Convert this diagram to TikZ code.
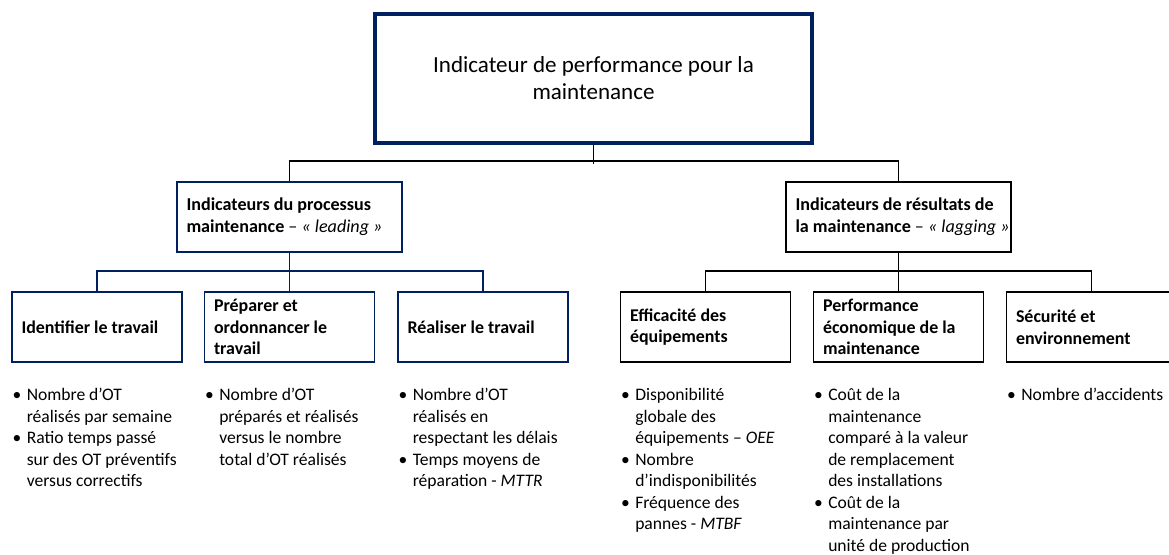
\documentclass[tikz,border=0pt]{standalone}
\usepackage{fontspec}
\setmainfont{Carlito}
\usetikzlibrary{positioning,calc}
\definecolor{kpinavy}{RGB}{0,32,96}

\begin{document}
\begin{tikzpicture}[
    hd/.style={draw=kpinavy, line width=2pt, minimum width=8.74cm, minimum height=2.58cm,
               align=center, font=\fontsize{13.1}{15.3}\selectfont},
    grp/.style={draw, line width=0.7pt, text width=4.12cm, inner xsep=0.19cm,
                minimum height=1.4cm, align=flush left, font=\fontsize{10.3}{12.5}\selectfont\bfseries},
    task/.style={draw, line width=0.7pt, text width=3.02cm, inner xsep=0.19cm,
                 minimum height=1.4cm, align=flush left, font=\fontsize{10.2}{12.3}\selectfont\bfseries},
    lst/.style={anchor=north west, inner sep=0pt, xshift=0.02cm,
                font=\fontsize{10}{12.2}\selectfont},
    conn/.style={line width=1.1pt}]
\useasboundingbox (0,0) rectangle (23.38,-11.08);
\node[hd] (top) at (11.87,-1.57) {Indicateur de performance pour la\\maintenance};
\node[grp, draw=kpinavy] (lead) at (5.79,-4.34) {Indicateurs du processus\\\mbox{maintenance \mdseries – \textit{«~leading~»}}};
\node[grp] (lag) at (17.97,-4.34) {Indicateurs de résultats de\\\mbox{la maintenance \mdseries – \textit{«~lagging~»}}};
\node[task, draw=kpinavy] (ident) at (1.94,-6.54) {Identifier le travail};
\node[task, draw=kpinavy] (prep) at (5.79,-6.54) {Préparer et\\ordonnancer le\\travail};
\node[task, draw=kpinavy] (real) at (9.66,-6.54) {Réaliser le travail};
\node[task] (effi) at (14.11,-6.54) {Efficacité des\\équipements};
\node[task] (eco) at (17.97,-6.54) {Performance\\économique de la\\maintenance};
\node[task] (secu) at (21.83,-6.54) {Sécurité et\\environnement};
% listes d'indicateurs
\node[lst, below=0.46cm of ident.south west, anchor=north west] (lident) {%
  \begin{tabular}{@{}l@{\hspace{3pt}}l@{}}
  \textbullet & Nombre d’OT\\
   & réalisés par semaine\\
  \textbullet & Ratio temps passé\\
   & sur des OT préventifs\\
   & versus correctifs
  \end{tabular}};
\node[lst, below=0.46cm of prep.south west, anchor=north west] (lprep) {%
  \begin{tabular}{@{}l@{\hspace{3pt}}l@{}}
  \textbullet & Nombre d’OT\\
   & préparés et réalisés\\
   & versus le nombre\\
   & total d’OT réalisés
  \end{tabular}};
\node[lst, below=0.46cm of real.south west, anchor=north west] (lreal) {%
  \begin{tabular}{@{}l@{\hspace{3pt}}l@{}}
  \textbullet & Nombre d’OT\\
   & réalisés en\\
   & respectant les délais\\
  \textbullet & Temps moyens de\\
   & réparation - \textit{MTTR}
  \end{tabular}};
\node[lst, below=0.46cm of effi.south west, anchor=north west] (leffi) {%
  \begin{tabular}{@{}l@{\hspace{3pt}}l@{}}
  \textbullet & Disponibilité\\
   & globale des\\
   & équipements – \textit{OEE}\\
  \textbullet & Nombre\\
   & d’indisponibilités\\
  \textbullet & Fréquence des\\
   & pannes - \textit{MTBF}
  \end{tabular}};
\node[lst, below=0.46cm of eco.south west, anchor=north west] (leco) {%
  \begin{tabular}{@{}l@{\hspace{3pt}}l@{}}
  \textbullet & Coût de la\\
   & maintenance\\
   & comparé à la valeur\\
   & de remplacement\\
   & des installations\\
  \textbullet & Coût de la\\
   & maintenance par\\
   & unité de production
  \end{tabular}};
\node[lst, below=0.46cm of secu.south west, anchor=north west] (lsecu) {%
  \begin{tabular}{@{}l@{\hspace{3pt}}l@{}}
  \textbullet & Nombre d’accidents
  \end{tabular}};
% liaisons
\draw[conn] (top.south) -- ++(0,-0.38);
\draw[conn] (lead.north) -- ++(0,0.4) -| (lag.north);
\draw[conn, kpinavy] (lead.south) -- (prep.north);
\draw[conn, kpinavy] (ident.north) -- ++(0,0.4) -| (real.north);
\draw[conn] (lag.south) -- (eco.north);
\draw[conn] (effi.north) -- ++(0,0.4) -| (secu.north);
\end{tikzpicture}
\end{document}
